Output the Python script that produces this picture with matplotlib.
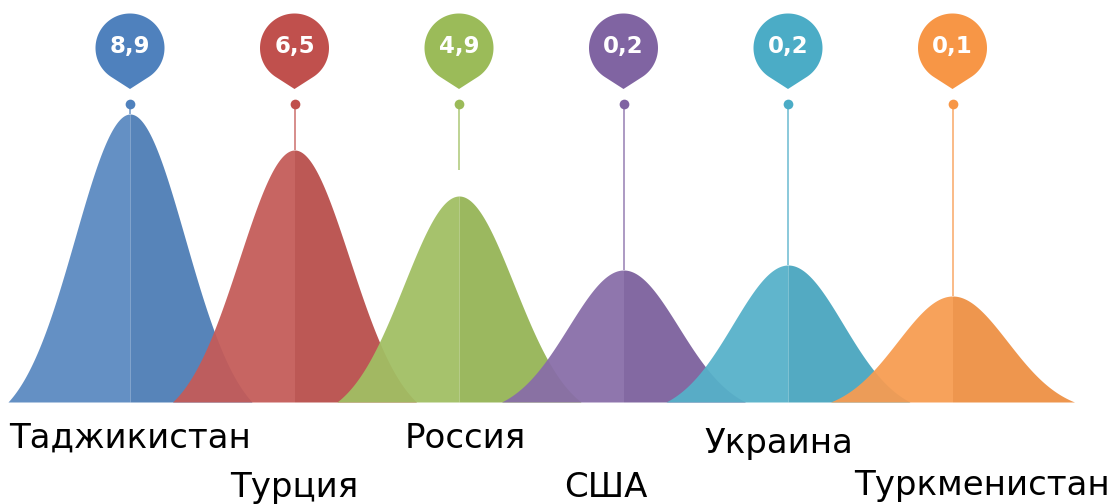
import matplotlib

matplotlib.use("Agg")
import matplotlib.pyplot as plt  # noqa: E402
import numpy as np  # noqa: E402
from matplotlib.colors import to_rgb  # noqa: E402
from matplotlib.patches import Polygon  # noqa: E402

# data
countries = ["Таджикистан", "Турция", "Россия", "США", "Украина", "Туркменистан"]
values = ["8,9", "6,5", "4,9", "0,2", "0,2", "0,1"]
peak_heights = [288, 252, 206, 132, 137, 106]
colors = ["#4F81BD", "#C0504D", "#9BBB59", "#8064A2", "#4BACC6", "#F79646"]

# layout (pixels)
W, H = 1115, 504
SPACING = 164.5
FIRST_X = 130.0
BASE_Y = 402.0
label_dx = [0, 0, 6, -18, -9, 30]
label_y = [-46, -95, -46, -95, -51, -93]


def shade(c, k):
    """k > 0 lightens toward white, k < 0 darkens toward black."""
    r = np.array(to_rgb(c))
    if k >= 0:
        return tuple(r + (1 - r) * k)
    return tuple(r * (1 + k))


fig = plt.figure(figsize=(W / 100, H / 100), dpi=100)
ax = fig.add_axes([0, 0, 1, 1])
ax.set_xlim(-FIRST_X / SPACING, (W - FIRST_X) / SPACING)
ax.set_ylim(-(H - BASE_Y), BASE_Y)
ax.axis("off")

# bell shape, offsets in pixels
half_w, sigma = 122.0, 55.0
d = np.linspace(-half_w, half_w, 401)
e0 = np.exp(-half_w**2 / (2 * sigma**2))
bell = (np.exp(-d**2 / (2 * sigma**2)) - e0) / (1 - e0)

pin_cy, pin_r, pin_tip = 354.0, 34.5, 313.0
dot_y = 298.0

for i, (name, val, h, c) in enumerate(zip(countries, values, peak_heights, colors)):
    xs = i + d / SPACING
    ys = bell * h
    left = d <= 0
    right = d >= 0
    ax.fill_between(xs[left], 0, ys[left], color=shade(c, 0.06), alpha=0.94, lw=0, zorder=2 + i)
    ax.fill_between(xs[right], 0, ys[right], color=shade(c, -0.04), alpha=0.94, lw=0, zorder=2 + i)

    # stem from the dot down to the peak (the green one stops short)
    stem_end = h if i != 2 else 232
    ax.plot([i, i], [dot_y, stem_end], color=shade(c, 0.35), lw=1.4, zorder=10, solid_capstyle="butt")
    ax.plot([i], [dot_y], "o", ms=7, color=c, mec="none", zorder=11)

    # pin marker
    dist = pin_cy - pin_tip
    phi = np.arccos(pin_r / dist)
    ang = np.linspace(-np.pi / 2 + phi, 3 * np.pi / 2 - phi, 120)
    px = np.concatenate([[0], pin_r * np.cos(ang), [0]]) / SPACING + i
    py = np.concatenate([[pin_tip], pin_cy + pin_r * np.sin(ang), [pin_tip]])
    ax.add_patch(Polygon(np.column_stack([px, py]), closed=True, facecolor=c, edgecolor="none", zorder=12))
    ax.text(i, pin_cy + 2, val, ha="center", va="center", color="white", fontsize=16.5,
            fontweight="bold", family="DejaVu Sans", zorder=13)

    ax.text(i + label_dx[i] / SPACING, label_y[i], name, ha="center", va="baseline",
            fontsize=24.5, family="DejaVu Sans", color="black", zorder=13)

fig.savefig("out.png", dpi=100)
plt.close(fig)
